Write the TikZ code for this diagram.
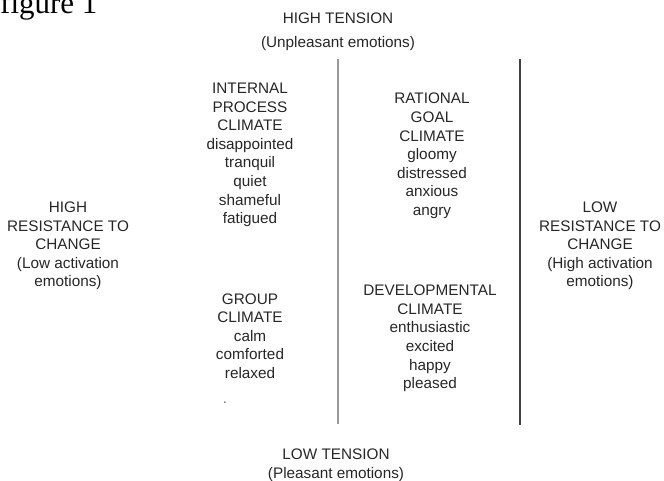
\documentclass[tikz,border=0pt]{standalone}
\usepackage{fontspec}
\setmainfont{Liberation Sans}
\newfontfamily\capfont{Liberation Serif}
\usepackage{tikz}

\begin{document}
\begin{tikzpicture}[x=1pt,y=-1pt,
    quad/.style={align=center, inner sep=0pt, text=black!85,
        font=\fontsize{15.3}{18.6}\selectfont},
    divider/.style={line width=2pt}]
    \useasboundingbox (0,0) rectangle (664,480);
    % caption, cut off at the top
    \node[anchor=base west, inner sep=0pt, font=\capfont\fontsize{31}{31}\selectfont] (fig) at (0,13.5) {figure 1};
    % axis labels
    \node[quad] (hightension) at (338,32) {HIGH TENSION\\[5.5pt](Unpleasant emotions)};
    \node[quad] (lowtension) at (336,465) {LOW TENSION\\(Pleasant emotions)};
    \node[quad] (highres) at (68,246) {HIGH\\RESISTANCE TO\\CHANGE\\(Low activation\\emotions)};
    \node[quad] (lowres) at (600,246) {LOW\\RESISTANCE TO\\CHANGE\\(High activation\\emotions)};
    % climates
    \node[quad] (internal) at (250,155) {INTERNAL\\PROCESS\\CLIMATE\\disappointed\\tranquil\\quiet\\shameful\\fatigued};
    \node[quad] (rational) at (432,156) {RATIONAL\\GOAL\\CLIMATE\\gloomy\\distressed\\anxious\\angry};
    \node[quad] (group) at (250,336) {GROUP\\CLIMATE\\calm\\comforted\\relaxed};
    \node[quad] (developmental) at (430,338.5) {DEVELOPMENTAL\\CLIMATE\\enthusiastic\\excited\\happy\\pleased};
    \node[quad, text=black!55] (dot) at (225,403) {.};
    % dividers
    \coordinate (midtop) at (338,59);
    \coordinate (midbot) at (338,424);
    \coordinate (righttop) at (520,59);
    \coordinate (rightbot) at (520,425);
    \draw[divider, black!40] (midtop) -- (midbot);
    \draw[divider, black!75, line width=2.4pt] (righttop) -- (rightbot);
\end{tikzpicture}
\end{document}
